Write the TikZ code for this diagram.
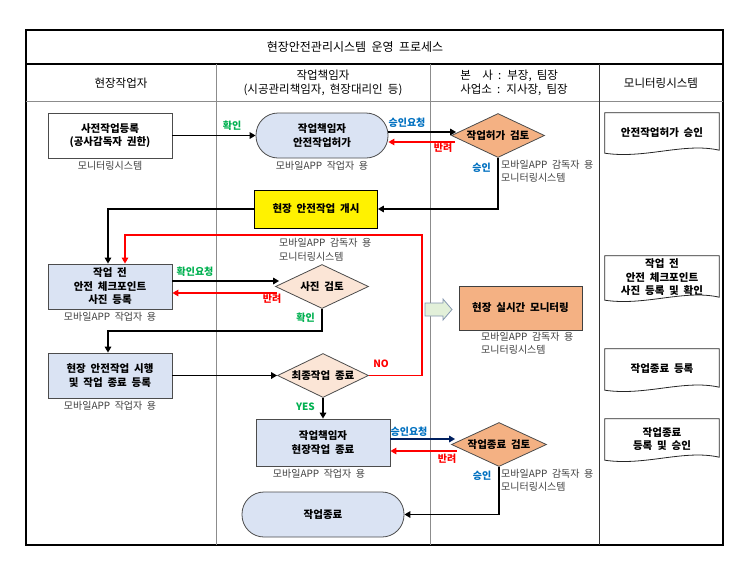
\documentclass[tikz,border=0pt]{standalone}
\usepackage{fontspec}
\setmainfont{Noto Sans CJK KR}[WordSpace=2]
\usetikzlibrary{arrows.meta,shapes.geometric,positioning}

\definecolor{paleblue}{HTML}{DAE3F3}
\definecolor{orangefill}{HTML}{F4B183}
\definecolor{peachfill}{HTML}{FBE5D6}
\definecolor{palegreen}{HTML}{E2F0D9}
\definecolor{arrowedge}{HTML}{8497B0}
\definecolor{okgreen}{HTML}{00B050}
\definecolor{reqblue}{HTML}{0070C0}
\definecolor{navyline}{HTML}{002060}
\definecolor{lanegray}{HTML}{8C8C8C}
\definecolor{notegray}{HTML}{404040}

\begin{document}
\begin{tikzpicture}[x=1pt, y=-1pt,
  font=\fontsize{11.5}{14}\selectfont,
  taskbox/.style={draw=black!70, line width=0.8pt, fill=paleblue, align=center, minimum width=124pt, minimum height=45pt, inner sep=1pt, font=\fontsize{10.5}{13.5}\selectfont\bfseries},
  pill/.style={taskbox, rounded corners=22pt},
  review/.style={diamond, draw=black!70, line width=0.8pt, fill=orangefill, aspect=2, inner sep=0pt, minimum width=93pt, minimum height=44pt, font=\fontsize{10.5}{12}\selectfont\bfseries},
  softreview/.style={review, fill=peachfill},
  docbox/.style={minimum width=114pt, align=center, inner sep=0pt, font=\fontsize{10.5}{13.5}\selectfont\bfseries},
  applabel/.style={text=notegray, font=\fontsize{10}{13.5}\selectfont, inner sep=0pt, align=left},
  flowlabel/.style={font=\fontsize{10}{11}\selectfont\bfseries, inner sep=0pt},
  flowarr/.style={-{Triangle[length=6pt,width=6.5pt]}, line width=1.8pt},
  rejectarr/.style={flowarr, red, line width=1.4pt},
]
\useasboundingbox (0,0) rectangle (750,563);

% swimlane frame
\draw[line width=2pt] (26,30) rectangle (723,545);
\draw[line width=1.4pt] (26,64) -- (723,64);
\draw[lanegray, line width=0.8pt] (26,101) -- (723,101);
\foreach \lx in {216,430} \draw[lanegray, line width=1pt] (\lx,64) -- (\lx,545);
\draw[black!80, line width=1pt] (599,64) -- (599,545);

\node (title) [font=\fontsize{12}{14}\selectfont] at (355,47) {현장안전관리시스템 운영 프로세스};
\node (lane1) at (121,83) {현장작업자};
\node (lane2) [align=center] at (323,83) {작업책임자\\(시공관리책임자, 현장대리인 등)};
\node (lane3) [align=left] at (514,83) {본\hspace{1em}사 : 부장, 팀장\\사업소 : 지사장, 팀장};
\node (lane4) at (661,83) {모니터링시스템};

% process nodes
\node (prereg) [taskbox, fill=white] at (110,135.5) {사전작업등록\\(공사감독자 권한)};
\node (permit) [pill, right of=prereg, node distance=212pt, minimum width=132pt] {작업책임자\\안전작업허가};
\node (permitchk) [review, right of=permit, node distance=176pt] {작업허가 검토};
\node (start) [taskbox, fill=yellow, draw=black, below of=permit, node distance=73.5pt, xshift=-6pt, minimum width=123pt, minimum height=38pt] {현장 안전작업 개시};
\node (check) [taskbox, below of=prereg, node distance=151pt] {작업 전\\안전 체크포인트\\사진 등록};
\node (photo) [softreview, right of=check, node distance=212pt] {사진 검토};
\node (work) [taskbox, below of=check, node distance=89pt] {현장 안전작업 시행\\및 작업 종료 등록};
\node (final) [softreview, right of=work, node distance=213pt, minimum width=91pt] {최종작업 종료};
\node (endjob) [taskbox, below of=final, node distance=67pt, minimum width=134pt, minimum height=47pt] {작업책임자\\현장작업 종료};
\node (endchk) [review, right of=endjob, node distance=176pt, yshift=-2pt, minimum width=95pt] {작업종료 검토};
\node (finish) [pill, below of=endjob, node distance=72pt, minimum width=162pt] {작업종료};
\node (monitor) [taskbox, fill=orangefill, draw=black!75, minimum width=123pt, minimum height=44pt] at (520.5,308) {현장 실시간 모니터링};

% monitoring system documents
\node (doc1) [docbox, minimum height=39pt] at (662,132.5) {안전작업허가 승인};
\node (doc2) [docbox, minimum height=43pt] at (662,277.5) {작업 전\\안전 체크포인트\\사진 등록 및 확인};
\node (doc3) [docbox, minimum height=40pt] at (662,369) {작업종료 등록};
\node (doc4) [docbox, minimum height=40pt] at (662,439) {작업종료\\등록 및 승인};
\foreach \d in {doc1,doc2,doc3,doc4}
  \draw[black!85, line width=0.8pt] ([yshift=-1pt]\d.south west) -- (\d.north west) -- (\d.north east) -- ([yshift=2pt]\d.south east) .. controls +(-35,-8) and +(40,6) .. ([yshift=-1pt]\d.south west) -- cycle;

% app notes
\node (preregnote) [applabel, below=3pt of prereg] {모니터링시스템};
\node (permitnote) [applabel, below=3pt of permit] {모바일APP 작업자 용};
\node (permitchknote) [applabel, anchor=north west] at (501,160) {모바일APP 감독자 용\\모니터링시스템};
\node (photonote) [applabel, anchor=west] at (279,250) {모바일APP 감독자 용\\모니터링시스템};
\node (checknote) [applabel, below=3pt of check] {모바일APP 작업자 용};
\node (worknote) [applabel, below=3pt of work] {모바일APP 작업자 용};
\node (endjobnote) [applabel, below=3pt of endjob, xshift=-4pt] {모바일APP 작업자 용};
\node (endchknote) [applabel, anchor=north west] at (501,469) {모바일APP 감독자 용\\모니터링시스템};
\node (monitornote) [applabel, anchor=north west] at (481,332) {모바일APP 감독자 용\\모니터링시스템};

% connectors
\draw[flowarr] (prereg.east) -- (permit.west);
\draw[flowarr] ([yshift=3.5pt]permit.east) -- ([yshift=3.5pt, xshift=5pt]permitchk.west);
\draw[rejectarr] ([yshift=-6.5pt, xshift=4pt]permitchk.west) -- ([yshift=-6.5pt]permit.east);
\draw[flowarr] (permitchk.south) |- (start.east);
\draw[flowarr] (start.west) -| ([xshift=-2pt]check.north);
\draw[flowarr] ([yshift=5.5pt]check.east) -- ([yshift=5.5pt, xshift=4pt]photo.west);
\draw[rejectarr] ([yshift=-6.5pt, xshift=2pt]photo.west) -- ([yshift=-6.5pt]check.east);
\draw[flowarr] (photo.south) -- ++(0,22) -| ([xshift=-2pt]work.north);
\draw[flowarr] (work.east) -- (final.west);
\draw[flowarr] (final.south) -- (endjob.north);
\coordinate (loopback) at (422,235);
\draw[rejectarr] (final.east) -| (loopback) -| ([xshift=15pt]check.north);
\draw[flowarr, navyline] ([yshift=3.5pt]endjob.east) -- ([yshift=5.5pt, xshift=4pt]endchk.west);
\draw[rejectarr] ([yshift=-6.5pt, xshift=6pt]endchk.west) -- ([yshift=-8.5pt]endjob.east);
\draw[flowarr] (endchk.south) |- (finish.east);

% block arrow toward monitoring
\draw[arrowedge, fill=palegreen, line width=0.8pt] (425,303) -- (443,303) -- (443,299) -- (452,309.5) -- (443,320) -- (443,316) -- (425,316) -- cycle;

% connector labels
\node (lbl1) [flowlabel, text=okgreen] at (232,126) {확인};
\node (lbl2) [flowlabel, text=reqblue] at (407,123) {승인요청};
\node (lbl3) [flowlabel, text=red] at (443,148) {반려};
\node (lbl4) [flowlabel, text=reqblue] at (481.5,168) {승인};
\node (lbl5) [flowlabel, text=okgreen] at (195,272) {확인요청};
\node (lbl6) [flowlabel, text=red] at (272,299) {반려};
\node (lbl7) [flowlabel, text=okgreen] at (305.5,318) {확인};
\node (lbl8) [flowlabel, text=red] at (381,364) {NO};
\node (lbl9) [flowlabel, text=okgreen] at (305.5,407) {YES};
\node (lbl10) [flowlabel, text=reqblue] at (409,432) {승인요청};
\node (lbl11) [flowlabel, text=red] at (447,459) {반려};
\node (lbl12) [flowlabel, text=reqblue] at (482,476) {승인};
\end{tikzpicture}
\end{document}
